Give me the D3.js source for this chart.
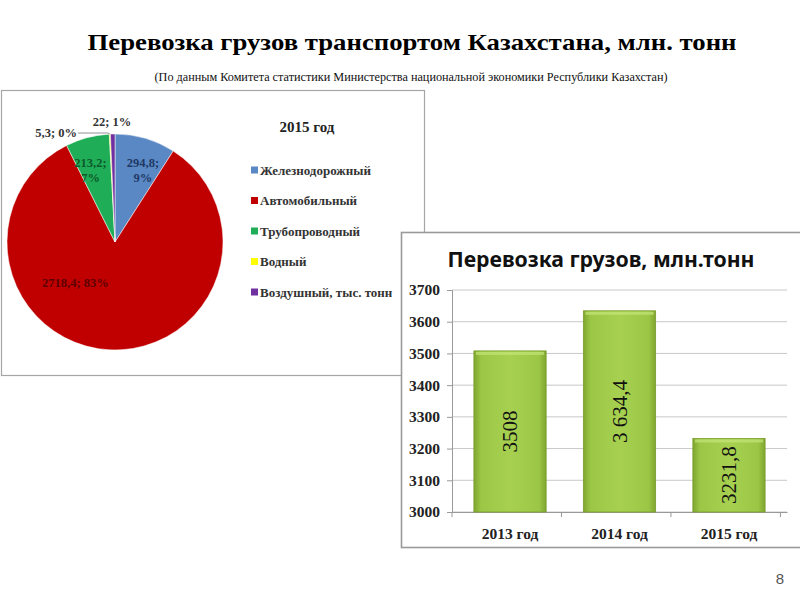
<!DOCTYPE html>
<html><head><meta charset="utf-8">
<script src="https://cdn.jsdelivr.net/npm/d3@7"></script>
<style>body{margin:0;background:#fff}svg{display:block}</style>
</head><body>
<script>
// ---- data ----
const pieCategories = ["Железнодорожный","Автомобильный","Трубопроводный","Водный","Воздушный, тыс. тонн"];
const pieValues = [294.8, 2718.4, 213.2, 5.3, 22];
const pieLabels = ["294,8;\n9%","2718,4; 83%","213,2;\n7%","5,3; 0%","22; 1%"];
const pieColors = ["#5a88c4","#c00000","#1fae57","#ffff00","#7030a0"];
const barCategories = ["2013 год","2014 год","2015 год"];
const barValues = [3508, 3634.4, 3231.8];
const barLabels = ["3508","3 634,4","3231,8"];
const yTicks = [3000,3100,3200,3300,3400,3500,3600,3700];

const W=800,H=600;
const svg=d3.select("body").append("svg").attr("width",W).attr("height",H);
const serif="'Liberation Serif','Times New Roman',serif";

// titles
svg.append("text").attr("x",412).attr("y",50).attr("text-anchor","middle")
  .style("font-family",serif).attr("font-weight","bold").attr("font-size",24)
  .attr("textLength",649).attr("lengthAdjust","spacingAndGlyphs")
  .text("Перевозка грузов транспортом Казахстана, млн. тонн");
svg.append("text").attr("x",411).attr("y",81).attr("text-anchor","middle")
  .style("font-family",serif).attr("font-size",11.5).attr("fill","#111")
  .attr("textLength",513).attr("lengthAdjust","spacingAndGlyphs")
  .text("(По данным Комитета статистики Министерства национальной экономики Республики Казахстан)");

// ---- left panel (pie) ----
svg.append("rect").attr("x",1.5).attr("y",90.5).attr("width",423).attr("height",285)
  .attr("fill","#fff").attr("stroke","#a6a6a6").attr("stroke-width",1.2);
const cx=115, cy=242, R=108;
const pg=svg.append("g").attr("transform",`translate(${cx},${cy})`);
const pie=d3.pie().sort(null).value(d=>d)(pieValues);
const arc=d3.arc().innerRadius(0).outerRadius(R);
pg.selectAll("path").data(pie).join("path").attr("d",arc)
  .attr("fill",(d,i)=>pieColors[i]).attr("stroke","#fff").attr("stroke-width",0.5);

const labelColors=["#1f3864","#5e0000","#0d5a2a","#333","#333"];
// label placement: [angle offset (deg), radius]
const place=[[5,77],[41,57],[-4,76]];
pie.forEach((d,i)=>{
  if(i>2) return;
  const mid=(d.startAngle+d.endAngle)/2 + place[i][0]*Math.PI/180;
  const r=place[i][1];
  const x=Math.sin(mid)*r, y=-Math.cos(mid)*r;
  const lines=pieLabels[i].split("\n");
  const t=pg.append("text").attr("text-anchor","middle").style("font-family",serif)
    .attr("font-weight","bold").attr("font-size",12.5).attr("fill",labelColors[i]);
  lines.forEach((ln,k)=>t.append("tspan").attr("x",x)
    .attr("y",y+4+(k-(lines.length-1)/2)*15).text(ln));
});
// small slice labels
const yel=pie[3];
const ya=(yel.startAngle+yel.endAngle)/2;
const ex=Math.sin(ya)*R, ey=-Math.cos(ya)*R;
pg.append("polyline").attr("points",`${-37},${-109} ${-7},${-109} ${ex},${ey}`)
  .attr("fill","none").attr("stroke","#777").attr("stroke-width",0.8);
pg.append("text").attr("x",-38).attr("y",-105).attr("text-anchor","end")
  .style("font-family",serif).attr("font-weight","bold").attr("font-size",12.5).attr("fill","#333")
  .text(pieLabels[3]);
pg.append("text").attr("x",-3).attr("y",-116).attr("text-anchor","middle")
  .style("font-family",serif).attr("font-weight","bold").attr("font-size",12.5).attr("fill","#333")
  .text(pieLabels[4]);

// legend
svg.append("text").attr("x",307).attr("y",132).attr("text-anchor","middle")
  .style("font-family",serif).attr("font-weight","bold").attr("font-size",15).attr("fill","#222")
  .text("2015 год");
const legY=d3.scalePoint().domain(pieCategories).range([170,292]);
const lg=svg.append("g");
pieCategories.forEach((c,i)=>{
  lg.append("rect").attr("x",251).attr("y",legY(c)-3.5).attr("width",7).attr("height",7).attr("fill",pieColors[i]);
  lg.append("text").attr("x",260).attr("y",legY(c)+4.5).style("font-family",serif)
    .attr("font-weight","bold").attr("font-size",13).attr("fill","#333").text(c);
});

// ---- right panel (bars) ----
svg.append("rect").attr("x",401.5).attr("y",232.5).attr("width",400).attr("height",315)
  .attr("fill","#fff").attr("stroke","#9a9a9a").attr("stroke-width",1.6);
svg.append("text").attr("x",601).attr("y",267).attr("text-anchor","middle")
  .style("font-family","'Noto Sans',sans-serif").attr("font-weight","bold").attr("font-size",22)
  .attr("textLength",307).attr("lengthAdjust","spacingAndGlyphs").attr("fill","#111")
  .text("Перевозка грузов, млн.тонн");

const x=d3.scaleBand().domain(barCategories).range([452,787]).paddingInner(0.34).paddingOuter(0.2);
const y=d3.scaleLinear().domain([3000,3700]).range([512,290]);

const defs=svg.append("defs");
const gr=defs.append("linearGradient").attr("id","bg").attr("x1",0).attr("x2",1).attr("y1",0).attr("y2",0);
[[0,"#7fa52f"],[0.1,"#9cc746"],[0.5,"#a7d050"],[0.9,"#9cc746"],[1,"#7fa52f"]]
  .forEach(s=>gr.append("stop").attr("offset",s[0]).attr("stop-color",s[1]));

// gridlines
svg.append("g").selectAll("line").data(yTicks).join("line")
  .attr("x1",452).attr("x2",787).attr("y1",d=>y(d)).attr("y2",d=>y(d))
  .attr("stroke","#c8c8c8").attr("stroke-width",1);

const yAxis=svg.append("g").attr("transform","translate(452,0)")
  .call(d3.axisLeft(y).tickValues(yTicks).tickSize(5).tickPadding(7).tickFormat(d3.format("d")));
yAxis.attr("font-family",null);
yAxis.select(".domain").attr("stroke","#999");
yAxis.selectAll(".tick line").attr("stroke","#999");
yAxis.selectAll("text").style("font-family",serif).style("font-weight","bold").style("font-size","15.5px").attr("fill","#222");

const xAxis=svg.append("g").attr("transform","translate(0,512)")
  .call(d3.axisBottom(x).tickSize(0).tickPadding(16));
xAxis.select(".domain").attr("stroke","#999");
xAxis.selectAll("text").style("font-family",serif).style("font-weight","bold").style("font-size","15.5px").attr("fill","#222");
const step=x.step();
svg.append("g").selectAll("line").data(d3.range(barCategories.length+1)).join("line")
  .attr("x1",d=>452+d*step).attr("x2",d=>452+d*step).attr("y1",512).attr("y2",517).attr("stroke","#999");

const bars=svg.append("g");
bars.selectAll("rect.b").data(barValues).join("rect").attr("class","b")
  .attr("x",(d,i)=>x(barCategories[i])).attr("y",d=>y(d))
  .attr("width",x.bandwidth()).attr("height",d=>y(3000)-y(d))
  .attr("fill","url(#bg)").attr("stroke","#7a9c2c").attr("stroke-width",0.8);
bars.selectAll("rect.hl").data(barValues).join("rect").attr("class","hl")
  .attr("x",(d,i)=>x(barCategories[i])+2).attr("y",d=>y(d)+1)
  .attr("width",x.bandwidth()-4).attr("height",3).attr("fill","#c5e57a").attr("opacity",0.7);
bars.selectAll("text").data(barValues).join("text")
  .attr("transform",(d,i)=>`translate(${x(barCategories[i])+x.bandwidth()/2+7},${(y(d)+y(3000))/2}) rotate(-90)`)
  .attr("text-anchor","middle").style("font-family",serif).style("font-size","21px").attr("fill","#111")
  .text((d,i)=>barLabels[i]);

// page number
svg.append("text").attr("x",780).attr("y",584).attr("text-anchor","middle")
  .style("font-family","'Liberation Sans',sans-serif").attr("font-size",15).attr("fill","#555").text("8");
</script>
</body></html>
